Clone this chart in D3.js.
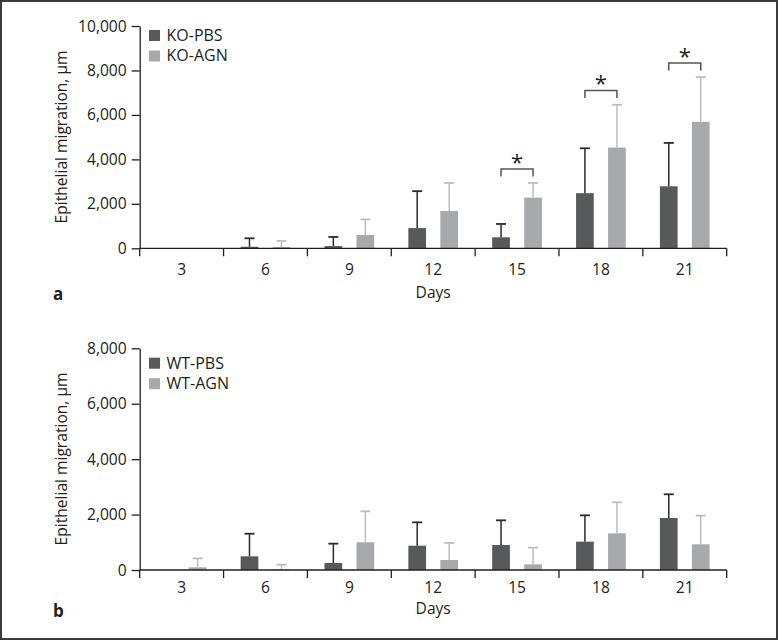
<!DOCTYPE html>
<html><head><meta charset="utf-8">
<script src="https://cdn.jsdelivr.net/npm/d3@7"></script>
<style>body{margin:0;background:#fff}svg{display:block;font-family:"Open Sans",sans-serif}</style>
</head><body>
<script>
const days = [3, 6, 9, 12, 15, 18, 21];
const yTicksA = [0, 2000, 4000, 6000, 8000, 10000];
const yTicksB = [0, 2000, 4000, 6000, 8000];
const koPbsMean = [0, 70, 100, 910, 495, 2480, 2790];
const koPbsSd   = [0, 380, 410, 1660, 600, 2020, 1950];
const koAgnMean = [0, 60, 600, 1680, 2280, 4530, 5690];
const koAgnSd   = [0, 270, 700, 1260, 660, 1925, 2010];
const wtPbsMean = [0, 494, 253, 877, 902, 1023, 1877];
const wtPbsSd   = [0, 816, 697, 843, 891, 950, 855];
const wtAgnMean = [97, 25, 1000, 361, 205, 1323, 927];
const wtAgnSd   = [323, 165, 1120, 614, 601, 1120, 1034];
const sigDays = [15, 18, 21];
const sigHeights = [3570, 7100, 8330];

const W = 779, H = 641;
const svg = d3.select("body").append("svg").attr("width", W).attr("height", H);
svg.append("rect").attr("x", 1).attr("y", 1).attr("width", W - 3).attr("height", H - 3)
  .attr("fill", "#fff").attr("stroke", "#3a3a3a").attr("stroke-width", 2);

const darkFill = "#58595b", lightFill = "#a7a9ac";
const darkErr = "#2b2b2b", lightErr = "#bcbec0";
const axisCol = "#231f20";
const fs = 15.6;

const x = d3.scaleBand().domain(days).range([139.7, 726.7]).paddingInner(0).paddingOuter(0);
const sub = d3.scalePoint().domain(["PBS", "AGN"]).range([0, x.bandwidth()]).padding(0.81);
const barW = 17.7, capW = 10;

const panels = [
  { letter: "a", y0: 248.3, yTop: 26, max: 10000, ticks: yTicksA,
    series: [
      { key: "PBS", name: "KO-PBS", mean: koPbsMean, sd: koPbsSd, fill: darkFill, err: darkErr },
      { key: "AGN", name: "KO-AGN", mean: koAgnMean, sd: koAgnSd, fill: lightFill, err: lightErr }],
    sig: true, labY: 27, daysY: 297.5, letterY: 300, legY: 30, ylabY: 137 },
  { letter: "b", y0: 570, yTop: 348.3, max: 8000, ticks: yTicksB,
    series: [
      { key: "PBS", name: "WT-PBS", mean: wtPbsMean, sd: wtPbsSd, fill: darkFill, err: darkErr },
      { key: "AGN", name: "WT-AGN", mean: wtAgnMean, sd: wtAgnSd, fill: lightFill, err: lightErr }],
    sig: false, labY: 22.7, daysY: 614, letterY: 616.7, legY: 357.7, ylabY: 459 }
];

panels.forEach(p => {
  const g = svg.append("g");
  const y = d3.scaleLinear().domain([0, p.max]).range([p.y0, p.yTop]);

  p.series.forEach(s => {
    const data = days.map((d, i) => ({ d, m: s.mean[i], sd: s.sd[i] }));
    const cx = d => x(d.d) + sub(s.key);
    g.selectAll(null).data(data.filter(d => d.m > 0)).join("rect")
      .attr("x", d => cx(d) - barW / 2).attr("width", barW)
      .attr("y", d => y(d.m)).attr("height", d => y(0) - y(d.m))
      .attr("fill", s.fill);
    const ed = data.filter(d => d.sd > 0);
    g.selectAll(null).data(ed).join("line")
      .attr("x1", cx).attr("x2", cx)
      .attr("y1", d => y(d.m)).attr("y2", d => y(d.m + d.sd))
      .attr("stroke", s.err).attr("stroke-width", 1.5);
    g.selectAll(null).data(ed).join("line")
      .attr("x1", d => cx(d) - capW / 2).attr("x2", d => cx(d) + capW / 2)
      .attr("y1", d => y(d.m + d.sd)).attr("y2", d => y(d.m + d.sd))
      .attr("stroke", s.err).attr("stroke-width", 1.8);
  });

  const ya = g.append("g").attr("transform", `translate(${x.range()[0]},0)`)
    .call(d3.axisLeft(y).tickValues(p.ticks).tickFormat(d3.format(",")).tickSize(8).tickPadding(5).tickSizeOuter(0));
  ya.selectAll("path,line").attr("stroke", axisCol).attr("stroke-width", 1.3);
  ya.selectAll("text").attr("font-size", fs).attr("fill", "#231f20").attr("font-family", "Open Sans");

  const bounds = days.map(d => x(d)).concat([x.range()[1]]);
  g.append("line").attr("x1", x.range()[0]).attr("x2", x.range()[1])
    .attr("y1", p.y0).attr("y2", p.y0).attr("stroke", axisCol).attr("stroke-width", 1.3);
  g.selectAll(null).data(bounds).join("line")
    .attr("x1", d => d).attr("x2", d => d).attr("y1", p.y0).attr("y2", p.y0 + 8)
    .attr("stroke", axisCol).attr("stroke-width", 1.3);
  g.selectAll(null).data(days).join("text")
    .attr("x", d => x(d) + x.bandwidth() / 2).attr("y", p.y0 + p.labY)
    .attr("text-anchor", "middle").attr("font-size", fs).attr("fill", "#231f20").text(d => d);
  g.append("text").attr("x", (x.range()[0] + x.range()[1]) / 2).attr("y", p.daysY)
    .attr("text-anchor", "middle").attr("font-size", fs).attr("fill", "#231f20").text("Days");

  g.append("text").attr("transform", `translate(67,${p.ylabY}) rotate(-90)`)
    .attr("text-anchor", "middle").attr("font-size", fs).attr("fill", "#231f20")
    .text("Epithelial migration, µm");

  g.append("text").attr("x", 53).attr("y", p.letterY).attr("font-size", 17)
    .attr("font-weight", "bold").attr("fill", "#231f20").text(p.letter);

  p.series.forEach((s, i) => {
    g.append("rect").attr("x", 149).attr("y", p.legY + i * 20.5).attr("width", 11).attr("height", 11)
      .attr("fill", s.fill);
    g.append("text").attr("x", 166.5).attr("y", p.legY + i * 20.5 + 10.8).attr("font-size", 16)
      .attr("fill", "#231f20").text(s.name);
  });

  if (p.sig) {
    sigDays.forEach((d, i) => {
      const x1 = x(d) + sub("PBS"), x2 = x(d) + sub("AGN"), yy = y(sigHeights[i]);
      g.append("path").attr("d", `M${x1},${yy + 7.5}V${yy}H${x2}V${yy + 7.5}`)
        .attr("fill", "none").attr("stroke", "#555").attr("stroke-width", 1.5);
      g.append("text").attr("x", (x1 + x2) / 2).attr("y", yy + 1).attr("text-anchor", "middle")
        .attr("font-size", 22).attr("fill", "#231f20").text("*");
    });
  }
});
</script>
</body></html>
